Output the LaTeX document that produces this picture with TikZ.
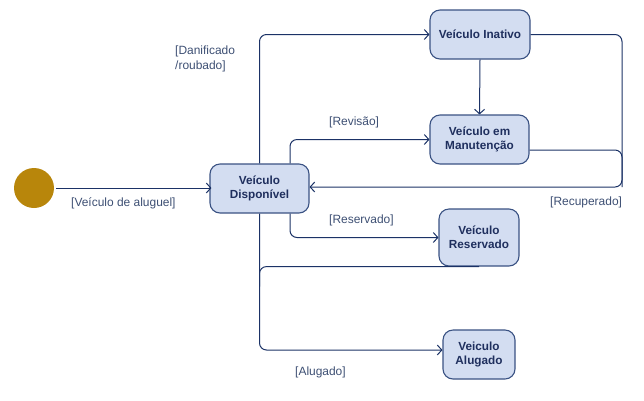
\documentclass[tikz,border=0pt]{standalone}
\usepackage{fontspec}
\setmainfont{Liberation Sans}
\usetikzlibrary{arrows.meta,calc}
\definecolor{ln}{HTML}{1B3266}
\definecolor{sfill}{HTML}{D3DDF1}
\definecolor{sdraw}{HTML}{3A5283}
\definecolor{stext}{HTML}{1F2F5E}
\definecolor{lbl}{HTML}{3D4F73}
\definecolor{gold}{HTML}{B8860B}
\begin{document}
\begin{tikzpicture}[x=1bp,y=-1bp,
  state/.style={rectangle,rounded corners=10bp,draw=sdraw,line width=1.1bp,fill=sfill,
    text=stext,font=\fontsize{11.8}{14}\selectfont\bfseries,align=center,inner sep=0pt},
  conn/.style={draw=ln,line width=1bp,rounded corners=7bp},
  arr/.style={conn,-{Straight Barb[length=4.5bp,width=10bp]}},
  lab/.style={text=lbl,font=\fontsize{12}{15}\selectfont,anchor=west,inner sep=0pt,align=left}]
\useasboundingbox (0,0) rectangle (644,400);
\node[circle,fill=gold,minimum size=40bp,inner sep=0pt] (init) at (34,188) {};
\node[state,minimum width=99bp,minimum height=49bp] (disp) at (259.5,188.5) {Veículo\\Disponível};
\node[state,minimum width=100bp,minimum height=49bp] (inat) at (480,34.5) {Veículo Inativo};
\node[state,minimum width=99bp,minimum height=49bp] (man) at (479.5,139.5) {Veículo em\\Manutenção};
\node[state,minimum width=80bp,minimum height=57bp] (res) at (479,237.5) {Veículo\\Reservado};
\node[state,minimum width=72bp,minimum height=49bp] (alu) at (479,354.5) {Veiculo\\Alugado};
\coordinate (rc) at (622,187);
% connectors
\draw[arr] ([xshift=2bp]init.east) -- ([xshift=2bp]init.east -| disp.west);
\draw[arr] (disp.north) |- (inat.west);
\draw[arr] ([xshift=30.5bp]disp.north) |- (man.west);
\draw[arr] (inat.south) -- (man.north);
\draw[arr] (inat.east) -| (rc) -- (rc -| disp.east);
\draw[conn] ([yshift=-10.5bp]man.east) -| (rc);
\draw[arr] ([xshift=30.5bp]disp.south) |- (res.west);
\coordinate (j) at (disp.south |- res.south);
\draw[arr] (disp.south) |- ([yshift=4.5bp]alu.west);
\draw[conn] (res.south) -- (j) -- ([yshift=-20bp]j);
% labels
\node[lab] (l1) at (71,203) {[Veículo de aluguel]};
\node[lab] (l2) at (175,58.5) {[Danificado\\/roubado]};
\node[lab] (l3) at (329,122) {[Revisão]};
\node[lab] (l4) at (329,220) {[Reservado]};
\node[lab] (l5) at (550,202) {[Recuperado]};
\node[lab] (l6) at (295,372) {[Alugado]};
\end{tikzpicture}
\end{document}
